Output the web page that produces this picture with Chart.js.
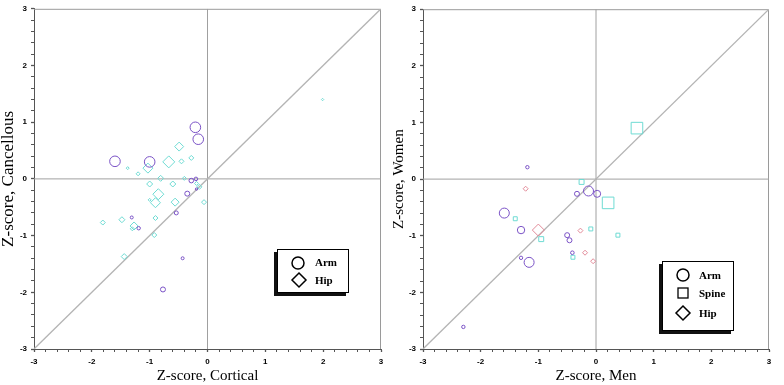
<!DOCTYPE html>
<html><head><meta charset="utf-8">
<script src="https://cdn.jsdelivr.net/npm/chart.js@4.4.1/dist/chart.umd.min.js"></script>
<style>
html,body{margin:0;padding:0;background:#fff;}
#wrap{position:relative;width:784px;height:385px;overflow:hidden;}
canvas{position:absolute;top:0;}
#c1{left:0;} #c2{left:392px;}
.lg{position:absolute;background:#fff;border:1px solid #000;box-shadow:-3px 3px 0 #111;}
.it{position:absolute;font-family:"Liberation Serif",serif;font-size:11px;font-weight:bold;color:#000;line-height:12px;}
.sym{position:absolute;}
</style>
</head><body>
<div id="wrap">
<canvas id="c1" width="392" height="385"></canvas>
<canvas id="c2" width="392" height="385"></canvas>

<div class="lg" style="left:277px;top:249px;width:70px;height:42px;"></div>
<svg class="sym" style="left:290px;top:255px" width="16" height="16"><circle cx="8" cy="8" r="6" fill="none" stroke="#000" stroke-width="1.5"/></svg>
<div class="it" style="left:315px;top:256px">Arm</div>
<svg class="sym" style="left:290px;top:271px" width="18" height="18"><polygon points="9,2 16,9 9,16 2,9" fill="none" stroke="#000" stroke-width="1.5"/></svg>
<div class="it" style="left:315px;top:274px">Hip</div>

<div class="lg" style="left:662px;top:261px;width:70px;height:68px;"></div>
<svg class="sym" style="left:675px;top:267px" width="16" height="16"><circle cx="8" cy="8" r="6" fill="none" stroke="#000" stroke-width="1.5"/></svg>
<div class="it" style="left:699px;top:269px">Arm</div>
<svg class="sym" style="left:675px;top:285px" width="16" height="16"><rect x="3" y="3" width="10" height="10" fill="none" stroke="#000" stroke-width="1.3"/></svg>
<div class="it" style="left:699px;top:287px">Spine</div>
<svg class="sym" style="left:674px;top:304px" width="18" height="18"><polygon points="9,2 16,9 9,16 2,9" fill="none" stroke="#000" stroke-width="1.5"/></svg>
<div class="it" style="left:699px;top:307px">Hip</div>
</div>

<script>
// ---- Left panel: Cortical vs Cancellous ----
const armCortical   = [-1.60,-1.00,-0.21,-0.16,-0.28,-0.20,-0.35,-0.54,-1.31,-1.19,-0.43,-0.77,-0.19];
const armCancellous = [ 0.31, 0.30, 0.91, 0.70,-0.03, 0.00,-0.26,-0.60,-0.68,-0.87,-1.40,-1.95,-0.18];
const armWeightL    = [ 5.3, 5.3, 5.3, 5.3, 2.3, 1.8, 2.5, 2.0, 1.5, 1.7, 1.5, 2.5, 1.2];

const hipCortical   = [-0.49,-0.67,-0.28,-0.45,-1.38,-1.20,-1.03,-0.81,-1.00,-0.60,-0.40,-0.19,-0.14,-0.06,-0.85,-0.90,-0.56,-1.00,-0.90,-1.48,-1.81,-1.27,-1.30,-0.92,-1.44, 1.99];
const hipCancellous = [ 0.57, 0.30, 0.37, 0.31, 0.19, 0.09, 0.19, 0.01,-0.09,-0.09, 0.01,-0.08,-0.14,-0.41,-0.27,-0.42,-0.41,-0.37,-0.69,-0.72,-0.77,-0.83,-0.88,-0.99,-1.37, 1.40];
const hipWeightL    = [ 4.5, 6.0, 2.5, 2.5, 1.5, 2.0, 5.0, 3.0, 3.0, 3.0, 2.0, 2.0, 2.5, 2.5, 5.5, 5.0, 4.0, 1.5, 2.5, 3.0, 2.5, 4.0, 2.0, 2.5, 3.0, 1.2];

// ---- Right panel: Men vs Women ----
const armMen     = [-1.19,-0.13, 0.02,-0.33,-1.59,-1.30,-1.16,-0.50,-0.46,-0.41,-1.30,-2.30];
const armWomen   = [ 0.21,-0.21,-0.26,-0.26,-0.60,-0.90,-1.47,-0.99,-1.08,-1.30,-1.39,-2.61];
const armWeightR = [ 1.7, 5.0, 3.5, 2.5, 5.0, 3.7, 5.0, 2.5, 2.5, 1.8, 1.7, 1.7];

const spineMen     = [ 0.71, 0.21,-0.25,-1.40,-0.95,-0.09, 0.38,-0.40];
const spineWomen   = [ 0.90,-0.42,-0.05,-0.70,-1.06,-0.88,-0.99,-1.38];
const spineWeightR = [ 8.2, 8.2, 3.5, 2.8, 3.5, 2.8, 2.8, 2.8];

const hipMen     = [-1.22,-1.00,-0.27,-0.19,-0.05];
const hipWomen   = [-0.17,-0.90,-0.91,-1.30,-1.45];
const hipWeightR = [ 2.5, 6.0, 2.5, 2.5, 2.5];

const axisMin = -3, axisMax = 3, minorStep = 0.2;

const PURPLE = '#7a52c6', CYAN = '#6edbd3', PINK = '#e28a98';

function pts(xs, ys, rs){ return xs.map((x,i)=>({x:x, y:ys[i], r:rs[i]})); }
function bubbleSet(label, xs, ys, rs, color, style){
  return {type:'bubble', label, data:pts(xs,ys,rs), pointStyle:style,
    backgroundColor:'rgba(0,0,0,0)', borderColor:color, borderWidth:1,
    hoverRadius:0, hoverBorderWidth:1};
}
function refLine(a, b, color, w){
  return {type:'line', data:[a,b], borderColor:color, borderWidth:w, pointRadius:0, fill:false, tension:0};
}
const isInt = v => Math.abs(v - Math.round(v)) < 1e-6;

const frame = {id:'frame', beforeDatasetsDraw(chart){
  const {ctx, chartArea:a} = chart;
  ctx.save(); ctx.strokeStyle='#9a9a9a'; ctx.lineWidth=1;
  ctx.beginPath(); ctx.moveTo(a.left, a.top+0.5); ctx.lineTo(a.right-0.5, a.top+0.5); ctx.lineTo(a.right-0.5, a.bottom); ctx.stroke();
  ctx.restore();
}};

function axis(title, isY, fitSize, titleSize){
  return {
    type:'linear', min:axisMin, max:axisMax,
    ticks:{stepSize:minorStep, autoSkip:false, maxRotation:0, maxTicksLimit:100,
      callback:v => isInt(v) ? String(Math.round(v)) : '',
      font:{family:'Liberation Sans', size:8, weight:'bold'}, color:'#000', padding: isY ? 4 : 5},
    grid:{drawOnChartArea:false, tickLength:3, tickColor:'#555',
      tickWidth: c => (c.tick && isInt(c.tick.value)) ? 1.3 : 1},
    border:{color:'#555', width:1},
    title:{display:true, text:title, color:'#000', padding:0,
      font:{family:'Liberation Serif', size:titleSize, lineHeight: isY ? 1.0 : 1.2}},
    afterFit: s => { if (isY) s.width = fitSize; else s.height = fitSize; }
  };
}

function makeChart(id, datasets, xTitle, yTitle, yWidth, padRight, yTitleSize){
  const diag = refLine({x:axisMin,y:axisMin},{x:axisMax,y:axisMax}, '#b4b4b4', 1.3);
  const vz = refLine({x:0,y:axisMin},{x:0,y:axisMax}, '#a0a0a0', 1);
  const hz = refLine({x:axisMin,y:0},{x:axisMax,y:0}, '#a0a0a0', 1);
  return new Chart(document.getElementById(id), {
    type:'bubble',
    data:{datasets: datasets.concat([diag, vz, hz])},
    options:{
      responsive:false, animation:false, devicePixelRatio:1,
      events:[],
      layout:{padding:{top:4, right:padRight, bottom:0, left:0}},
      plugins:{legend:{display:false}, tooltip:{enabled:false}},
      scales:{ x: axis(xTitle, false, 36, 15), y: axis(yTitle, true, yWidth, yTitleSize) }
    },
    plugins:[frame]
  });
}

makeChart('c1', [
  bubbleSet('Arm', armCortical, armCancellous, armWeightL, PURPLE, 'circle'),
  bubbleSet('Hip', hipCortical, hipCancellous, hipWeightL, CYAN, 'rectRot')
], 'Z-score, Cortical', 'Z-score, Cancellous', 34, 11, 17);

makeChart('c2', [
  bubbleSet('Arm', armMen, armWomen, armWeightR, PURPLE, 'circle'),
  bubbleSet('Spine', spineMen, spineWomen, spineWeightR, CYAN, 'rect'),
  bubbleSet('Hip', hipMen, hipWomen, hipWeightR, PINK, 'rectRot')
], 'Z-score, Men', 'Z-score, Women', 31, 15, 15);
</script>
</body></html>
